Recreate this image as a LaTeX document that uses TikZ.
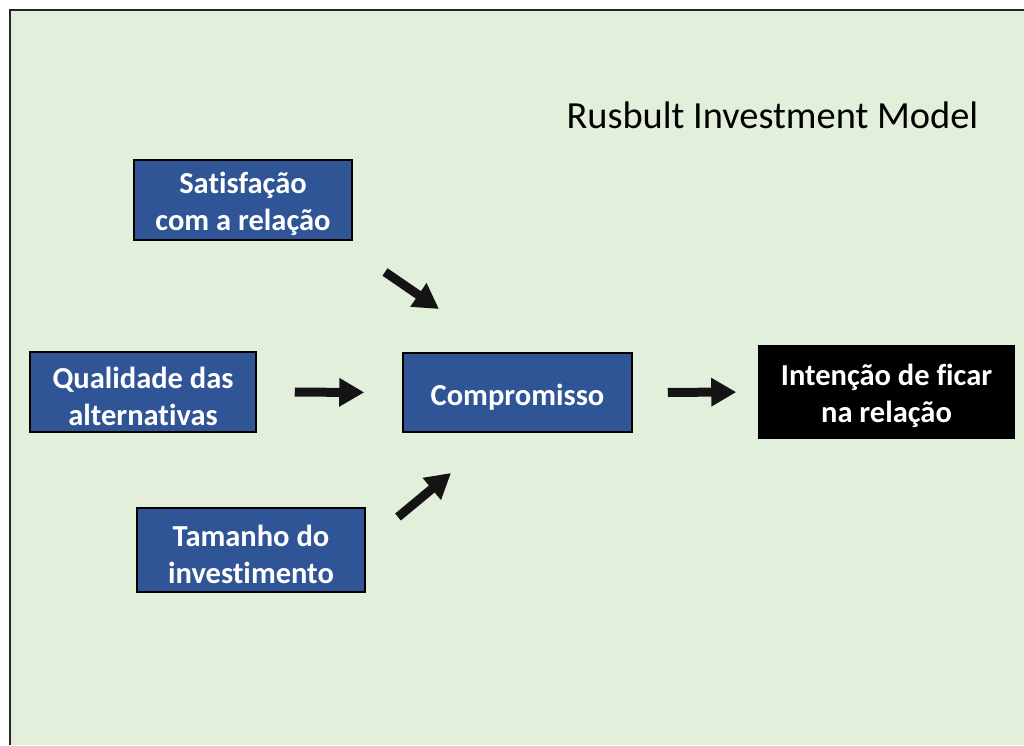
\documentclass[tikz,border=0pt]{standalone}
\usepackage{fontspec}
\setmainfont[Ligatures={NoCommon}]{Carlito}
\usetikzlibrary{arrows.meta}
\definecolor{bg}{HTML}{E2EFDA}
\definecolor{boxblue}{HTML}{2F5597}
\newcommand\mytopstrut{\rule{0pt}{30pt}}
\tikzset{
  bluebox/.style={draw=black, line width=1.5pt, fill=boxblue, text=white, font=\fontsize{30.5}{37}\selectfont\bfseries, align=center, inner sep=0pt},
  blackbox/.style={draw=black, line width=1.5pt, fill=black, text=white, font=\fontsize{30.5}{37}\selectfont\bfseries, align=center, inner sep=0pt},
  blockarrow/.style={draw=black!92, line width=9pt, -{Triangle[length=25pt,width=27pt]}}
}
\begin{document}
\begin{tikzpicture}[x=1pt,y=-1pt]
\useasboundingbox (0,0) rectangle (1024,745);
\fill[bg] (10,10) rectangle (1024,745);
\draw[line width=2pt, black!85] (10,745) -- (10,10) -- (1024,10);

\node[font=\fontsize{38.4}{44}\selectfont, anchor=base west] (title) at (563,128) {Rusbult Investment Model};

\node[bluebox, minimum width=218pt, minimum height=80pt] (sat) at (243,200) {\mytopstrut Satisfação\\com a relação};
\node[bluebox, minimum width=226pt, minimum height=80pt] (qual) at (143,392) {\mytopstrut Qualidade das\\alternativas};
\node[bluebox, minimum width=229pt, minimum height=79pt] (comp) at (517.5,392.5) {\mytopstrut Compromisso};
\node[blackbox, minimum width=255pt, minimum height=92pt] (int) at (886.5,392) {\mytopstrut Intenção de ficar\\na relação};
\node[bluebox, minimum width=228pt, minimum height=84pt] (tam) at (251,550) {\mytopstrut Tamanho do\\investimento};

\coordinate (a1s) at (385,272);
\coordinate (a1e) at (439,309);
\coordinate (a3s) at (398,517);
\coordinate (a3e) at (451,473);

\draw[blockarrow] (a1s) -- (a1e);
\draw[blockarrow, shorten <=38pt, shorten >=38pt] (qual.east) -- (comp.west);
\draw[blockarrow] (a3s) -- (a3e);
\draw[blockarrow, shorten <=35pt, shorten >=22pt] (comp.east) -- (int.west);
\end{tikzpicture}
\end{document}
